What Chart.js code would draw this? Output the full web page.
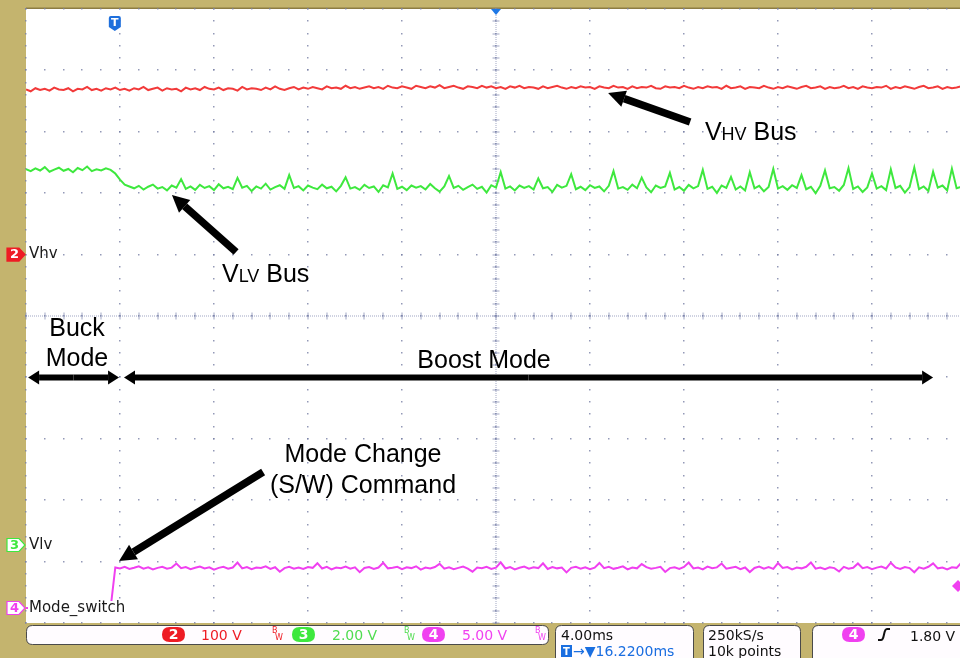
<!DOCTYPE html>
<html>
<head>
<meta charset="utf-8">
<script src="https://cdn.jsdelivr.net/npm/chart.js@4.4.0/dist/chart.umd.min.js"></script>
<style>
html,body{margin:0;padding:0;overflow:hidden;background:#c4b46e;}
canvas{display:block;}
</style>
</head>
<body>
<canvas id="scope" width="966" height="658"></canvas>
<script>
// time base: 4 ms/div, horizontal position 16.22 ms, 10 divisions
const msPerDiv = 4.0;
const horizPosMs = 16.22;
const timeStart = horizPosMs - 5 * msPerDiv;
const sampleStepMs = 0.2;

// channel settings (volts/div, ground marker position in divisions from bottom)
const hvVoltsPerDiv = 100, hvGroundDiv = 6.0;
const lvVoltsPerDiv = 2.0, lvGroundDiv = 1.27;
const modeVoltsPerDiv = 5.0, modeGroundDiv = 0.244;
const triggerLevel = 1.80;

// Ch2 - VHV bus (V)
const hvBus = [
  269,266,271,268,270,267,272,269,268,271,266,270,269,273,268,270,267,271,269,272,
  268,270,267,271,269,273,268,270,272,267,271,269,270,266,272,269,271,268,273,270,
  269,272,268,271,270,267,273,269,271,270,268,272,269,274,270,268,271,273,269,272,
  270,273,271,269,274,271,272,270,275,271,273,270,272,274,271,273,270,275,272,271,
  274,272,270,275,273,271,274,272,276,271,273,275,272,270,274,273,271,275,272,274,
  271,273,270,274,272,275,271,273,272,270,274,271,273,275,272,270,273,271,274,272,
  273,270,274,272,271,275,272,273,270,274,271,273,272,275,271,270,274,272,273,271,
  275,272,270,273,271,274,272,273,270,275,271,272,274,270,273,272,271,275,272,270,
  273,271,274,272,270,273,275,271,272,274,270,273,271,272,275,271,273,270,274,272,
  271,273,272,275,270,273,271,274,272,270,273,275,271,272,274,270,273,271,272,274,
  272
];

// Ch3 - VLV bus (V)
const lvBus = [
  12.24,12.18,12.27,12.20,12.31,12.16,12.23,12.29,12.19,12.25,12.14,12.28,12.21,12.33,12.18,12.24,12.20,12.27,12.22,
  12.10,11.90,11.74,11.68,
  11.62,11.70,11.58,11.67,11.74,11.61,11.66,11.55,11.71,11.64,11.92,11.60,11.68,11.57,11.73,11.63,11.69,11.56,11.75,11.62,
  11.67,11.59,11.96,11.64,11.70,11.53,11.68,11.61,11.77,11.58,11.66,11.72,11.60,12.05,11.63,11.69,11.55,11.71,11.64,11.59,
  11.74,11.62,11.67,11.52,11.70,11.98,11.61,11.66,11.57,11.73,11.63,11.68,11.50,11.72,11.65,12.10,11.60,11.67,11.56,11.71,
  11.64,11.69,11.58,11.76,11.62,11.51,11.68,12.02,11.63,11.70,11.57,11.66,11.74,11.60,11.67,11.48,11.72,11.64,12.15,11.61,
  11.68,11.55,11.71,11.63,11.69,11.58,11.94,11.62,11.66,11.50,11.73,11.64,11.70,12.08,11.59,11.67,11.56,11.72,11.63,11.68,
  11.52,11.70,12.18,11.61,11.66,11.57,11.74,11.62,11.97,11.65,11.49,11.71,11.63,11.68,12.12,11.58,11.66,11.54,11.73,11.62,
  11.69,12.22,11.60,11.67,11.47,11.71,11.63,11.99,11.58,11.68,11.55,12.14,11.62,11.70,11.52,11.66,12.25,11.61,11.69,11.57,
  11.72,11.63,12.05,11.59,11.67,11.46,11.70,12.20,11.62,11.66,11.54,11.73,12.28,11.60,11.68,11.50,11.65,12.10,11.61,11.69,
  11.56,12.24,11.63,11.70,11.48,11.66,12.30,11.59,11.68,11.53,12.16,11.64,11.71,11.55,12.26,11.62,11.67,11.58
];

// Ch4 - Mode_switch (V)
const modeSwitch = [
  0,0,0,0,0,0,0,0,0,0,0,0,0,0,0,0,0,0,0,
  3.30,3.22,3.35,3.18,3.28,3.40,3.21,3.31,3.15,3.27,3.36,3.20,3.29,3.62,3.24,3.33,3.17,3.28,3.38,3.22,
  3.31,3.12,3.27,3.35,3.20,3.30,3.70,3.23,3.34,3.16,3.29,3.26,3.39,3.19,3.32,2.95,3.25,3.36,3.21,3.30,
  3.18,3.33,3.27,3.65,3.22,3.35,3.14,3.29,3.24,3.37,3.20,3.31,2.92,3.26,3.34,3.19,3.30,3.68,3.23,3.28,
  3.36,3.17,3.32,3.25,3.40,3.13,3.29,3.22,3.34,3.60,3.20,3.31,3.16,3.27,3.38,3.21,2.96,3.30,3.24,3.35,
  3.19,3.29,3.72,3.22,3.33,3.15,3.28,3.37,3.20,3.31,3.25,3.64,3.18,3.34,3.23,3.30,2.90,3.27,3.36,3.21,
  3.32,3.16,3.29,3.67,3.24,3.35,3.19,3.28,3.39,3.14,3.30,3.23,3.58,3.33,3.20,3.27,3.36,2.94,3.25,3.31,
  3.18,3.34,3.70,3.22,3.29,3.15,3.37,3.24,3.31,3.62,3.20,3.28,3.35,3.17,3.30,2.93,3.26,3.38,3.21,3.33,
  3.19,3.66,3.27,3.34,3.14,3.29,3.23,3.36,3.71,3.21,3.30,3.17,3.32,3.25,2.97,3.35,3.20,3.28,3.63,3.24,
  3.33,3.16,3.29,3.38,3.22,3.69,3.30,3.18,3.34,3.25,2.91,3.31,3.20,3.36,3.64,3.23,3.29,3.15,3.32,3.27,
  3.68,3.22
];

const sampleTimes = hvBus.map((v, i) => timeStart + i * sampleStepMs);
const toPoints = (arr) => arr.map((v, i) => ({x: sampleTimes[i], y: v}));

const TXT = '"Liberation Sans", Arial, sans-serif';
const SCOPE = '"DejaVu Sans", sans-serif';

function arrow(ctx, x1, y1, x2, y2, w, hl, hw) {
  const a = Math.atan2(y2 - y1, x2 - x1);
  const bx = x2 - hl * Math.cos(a), by = y2 - hl * Math.sin(a);
  ctx.lineWidth = w;
  ctx.beginPath(); ctx.moveTo(x1, y1); ctx.lineTo(bx, by); ctx.stroke();
  ctx.beginPath(); ctx.moveTo(x2, y2);
  ctx.lineTo(bx + hw / 2 * Math.sin(a), by - hw / 2 * Math.cos(a));
  ctx.lineTo(bx - hw / 2 * Math.sin(a), by + hw / 2 * Math.cos(a));
  ctx.closePath(); ctx.fill();
}

function badge(ctx, y, text, color, filled) {
  ctx.beginPath();
  ctx.moveTo(7, y - 6.5); ctx.lineTo(19, y - 6.5); ctx.lineTo(25, y);
  ctx.lineTo(19, y + 6.5); ctx.lineTo(7, y + 6.5); ctx.closePath();
  ctx.fillStyle = filled ? color : '#ffffff'; ctx.fill();
  ctx.lineWidth = 1.2; ctx.strokeStyle = color; ctx.stroke();
  ctx.fillStyle = filled ? '#ffffff' : color;
  ctx.font = 'bold 13px ' + SCOPE;
  ctx.textAlign = 'center'; ctx.textBaseline = 'middle';
  ctx.fillText(text, 14.5, y + 0.5);
}

function rrect(ctx, x, y, w, h, r) {
  ctx.beginPath();
  ctx.moveTo(x + r, y); ctx.lineTo(x + w - r, y); ctx.quadraticCurveTo(x + w, y, x + w, y + r);
  ctx.lineTo(x + w, y + h - r); ctx.quadraticCurveTo(x + w, y + h, x + w - r, y + h);
  ctx.lineTo(x + r, y + h); ctx.quadraticCurveTo(x, y + h, x, y + h - r);
  ctx.lineTo(x, y + r); ctx.quadraticCurveTo(x, y, x + r, y); ctx.closePath();
}

function pill(ctx, x, y, text, color) {
  rrect(ctx, x, y, 23, 15, 7.5);
  ctx.fillStyle = color; ctx.fill();
  ctx.fillStyle = '#ffffff'; ctx.font = 'bold 14px ' + SCOPE;
  ctx.textAlign = 'center'; ctx.textBaseline = 'middle';
  ctx.fillText(text, x + 11.5, y + 8);
}

function bw(ctx, x, color) {
  ctx.fillStyle = color; ctx.font = '8px ' + SCOPE;
  ctx.textAlign = 'left'; ctx.textBaseline = 'alphabetic';
  ctx.fillText('B', x, 633); ctx.fillText('W', x + 3, 640);
}

function smallCaps(ctx, parts, x, y) {
  let cx = x;
  parts.forEach(([t, size]) => {
    ctx.font = size + 'px ' + TXT;
    ctx.fillText(t, cx, y);
    cx += ctx.measureText(t).width;
  });
}

const scopeDecor = {
  id: 'scopeDecor',
  beforeDraw(chart) {
    const {ctx, chartArea: a} = chart;
    ctx.save();
    ctx.fillStyle = '#c4b46e';
    ctx.fillRect(0, 0, chart.width, chart.height);
    ctx.fillStyle = '#ffffff';
    ctx.fillRect(a.left, a.top, a.right - a.left, a.bottom - a.top);
    ctx.fillStyle = '#8c7c42';
    ctx.fillRect(a.left, a.top - 1.5, a.right - a.left, 1.5);
    ctx.restore();
  },
  beforeDatasetsDraw(chart) {
    const {ctx, chartArea: a} = chart;
    const xs = chart.scales.x, ys = chart.scales.yd;
    ctx.save();
    ctx.fillStyle = 'rgba(120,128,165,0.8)';
    for (let k = 0; k <= 10; k++) {
      const px = Math.round(xs.getPixelForValue(timeStart + k * msPerDiv));
      const py = Math.round(ys.getPixelForValue(k));
      for (let m = 0; m <= 50; m++) {
        const qy = Math.round(ys.getPixelForValue(m / 5));
        const qx = Math.round(xs.getPixelForValue(timeStart + m * msPerDiv / 5));
        ctx.fillRect(px - 1, qy - 1, 1.5, 1.5);
        ctx.fillRect(qx - 1, py - 1, 1.5, 1.5);
      }
    }
    // centre cross hair
    const cx = Math.round(xs.getPixelForValue(horizPosMs));
    const cy = Math.round(ys.getPixelForValue(5));
    ctx.fillStyle = 'rgba(130,138,175,0.75)';
    for (let y = a.top; y < a.bottom; y += 2) ctx.fillRect(cx - 0.5, y, 1, 1);
    for (let x = a.left; x < a.right; x += 2) ctx.fillRect(x, cy - 0.5, 1, 1);
    for (let m = 0; m <= 50; m++) {
      const qy = Math.round(ys.getPixelForValue(m / 5));
      const qx = Math.round(xs.getPixelForValue(timeStart + m * msPerDiv / 5));
      ctx.fillRect(cx - 3.5, qy - 0.5, 7, 1);
      ctx.fillRect(qx - 0.5, cy - 3.5, 1, 7);
    }
    ctx.restore();
  },
  afterDatasetsDraw(chart) {
    const {ctx, chartArea: a} = chart;
    const xs = chart.scales.x, ys = chart.scales.yd;
    const P = (t, d) => [xs.getPixelForValue(t), ys.getPixelForValue(d)];
    ctx.save();

    // channel ground markers & labels
    const yHv = chart.scales.y2.getPixelForValue(0);
    const yLv = chart.scales.y3.getPixelForValue(0);
    const yMode = chart.scales.y4.getPixelForValue(0);
    ctx.fillStyle = '#ffffff';
    ctx.fillRect(a.left + 2, yMode - 7, 104, 15);
    badge(ctx, yHv, '2', '#ee1c24', true);
    badge(ctx, yLv, '3', '#3ee83e', false);
    badge(ctx, yMode, '4', '#f040f0', false);
    ctx.fillStyle = '#1a1a1a'; ctx.font = '15px ' + SCOPE;
    ctx.textAlign = 'left'; ctx.textBaseline = 'middle';
    ctx.fillText('Vhv', a.left + 3, yHv);
    ctx.fillText('Vlv', a.left + 3, yLv);
    ctx.fillText('Mode_switch', a.left + 3, yMode);

    // trigger "T" marker
    const tx = xs.getPixelForValue(0);
    ctx.fillStyle = '#1e6fdc';
    ctx.beginPath();
    ctx.moveTo(tx - 6, 18); ctx.quadraticCurveTo(tx - 6, 16, tx - 4, 16);
    ctx.lineTo(tx + 4, 16); ctx.quadraticCurveTo(tx + 6, 16, tx + 6, 18);
    ctx.lineTo(tx + 6, 27); ctx.lineTo(tx, 31); ctx.lineTo(tx - 6, 27); ctx.closePath(); ctx.fill();
    ctx.fillStyle = '#ffffff'; ctx.font = 'bold 11px ' + SCOPE; ctx.textAlign = 'center';
    ctx.fillText('T', tx, 23);
    // horizontal position marker
    const hx = xs.getPixelForValue(horizPosMs);
    ctx.fillStyle = '#1e78e6';
    ctx.beginPath(); ctx.moveTo(hx - 5, a.top); ctx.lineTo(hx + 5, a.top); ctx.lineTo(hx, a.top + 6); ctx.closePath(); ctx.fill();
    // trigger level marker (right edge)
    const ly = chart.scales.y4.getPixelForValue(triggerLevel);
    ctx.fillStyle = '#f040f0';
    ctx.beginPath(); ctx.moveTo(952, ly); ctx.lineTo(958, ly - 6); ctx.lineTo(964, ly); ctx.lineTo(958, ly + 6); ctx.closePath(); ctx.fill();

    // annotations
    ctx.fillStyle = '#000000'; ctx.strokeStyle = '#000000';
    ctx.textAlign = 'left'; ctx.textBaseline = 'alphabetic';
    let p = P(25.11, 7.866);
    smallCaps(ctx, [['V', 25], ['HV', 18], [' Bus', 25]], p[0], p[1]);
    p = P(4.56, 5.554);
    smallCaps(ctx, [['V', 25], ['LV', 18], [' Bus', 25]], p[0], p[1]);
    let q;
    p = P(24.48, 8.16); q = P(20.99, 8.632); arrow(ctx, p[0], p[1], q[0], q[1], 7.5, 17, 17);
    p = P(5.16, 6.042); q = P(2.43, 6.971); arrow(ctx, p[0], p[1], q[0], q[1], 7.5, 17, 17);
    p = P(6.31, 2.459); q = P(0.18, 1.01); arrow(ctx, p[0], p[1], q[0], q[1], 7.5, 17, 17);

    ctx.font = '25px ' + TXT; ctx.textAlign = 'center';
    p = P(-1.61, 4.674); ctx.fillText('Buck', p[0], p[1]);
    p = P(-1.61, 4.186); ctx.fillText('Mode', p[0], p[1]);
    p = P(15.71, 4.153); ctx.fillText('Boost Mode', p[0], p[1]);
    p = P(10.56, 2.622); ctx.fillText('Mode Change', p[0], p[1]);
    p = P(10.56, 2.117); ctx.fillText('(S/W) Command', p[0], p[1]);

    const dbl = (t1, t2, d) => {
      const s = P(t1, d), e = P(t2, d), m = (s[0] + e[0]) / 2;
      arrow(ctx, m, s[1], s[0], s[1], 6, 11, 14);
      arrow(ctx, m, e[1], e[0], e[1], 6, 11, 14);
    };
    dbl(-3.69, 0.18, 4.0);
    dbl(0.39, 34.82, 4.0);

    // status bar
    ctx.lineWidth = 1; ctx.strokeStyle = '#4a4a4a';
    [[26, 625, 522, 19], [555, 625, 138, 40], [703, 625, 97, 40], [812, 625, 160, 40]].forEach(b => {
      rrect(ctx, b[0] + 0.5, b[1] + 0.5, b[2], b[3], 6);
      ctx.fillStyle = '#fffcff'; ctx.fill(); ctx.stroke();
    });
    pill(ctx, 162, 627, '2', '#ee1c24');
    pill(ctx, 292, 627, '3', '#3ee83e');
    pill(ctx, 422, 627, '4', '#f040f0');
    pill(ctx, 842, 627, '4', '#f040f0');
    ctx.font = '14px ' + SCOPE; ctx.textAlign = 'left'; ctx.textBaseline = 'alphabetic';
    ctx.fillStyle = '#ee1c24'; ctx.fillText('100 V', 201, 640);
    ctx.fillStyle = '#50dc50'; ctx.fillText('2.00 V', 332, 640);
    ctx.fillStyle = '#f040f0'; ctx.fillText('5.00 V', 462, 640);
    bw(ctx, 272, '#ee1c24'); bw(ctx, 404, '#50dc50'); bw(ctx, 535, '#f040f0');
    ctx.font = '14px ' + SCOPE;
    ctx.fillStyle = '#111111';
    ctx.fillText('4.00ms', 561, 640);
    ctx.fillText('250kS/s', 708, 640);
    ctx.fillText('10k points', 708, 656);
    ctx.fillText('1.80 V', 910, 641);
    ctx.fillStyle = '#1a6ee0';
    ctx.fillRect(561, 645, 11, 12);
    ctx.fillText('\u2192\u25BC16.2200ms', 573, 656);
    ctx.fillStyle = '#ffffff'; ctx.font = 'bold 10px ' + SCOPE; ctx.textAlign = 'center';
    ctx.fillText('T', 566.5, 655);
    // rising edge glyph
    ctx.strokeStyle = '#111111'; ctx.lineWidth = 2;
    ctx.beginPath(); ctx.moveTo(878, 640); ctx.lineTo(881, 640);
    ctx.bezierCurveTo(885, 640, 883, 629, 887, 629); ctx.lineTo(890, 629); ctx.stroke();
    ctx.restore();
  }
};

const ctx = document.getElementById('scope').getContext('2d');

const scope = new Chart(ctx, {
  type: 'line',
  data: {
    datasets: [
      {label: 'Vhv', data: toPoints(hvBus), yAxisID: 'y2', borderColor: '#f23a3a', borderWidth: 2},
      {label: 'Vlv', data: toPoints(lvBus), yAxisID: 'y3', borderColor: '#3ee83e', borderWidth: 2},
      {label: 'Mode_switch', data: toPoints(modeSwitch), yAxisID: 'y4', borderColor: '#f040f0', borderWidth: 2}
    ]
  },
  options: {
    responsive: false,
    animation: false,
    layout: {padding: {left: 26, top: 9, right: 0, bottom: 35}},
    elements: {point: {radius: 0}, line: {tension: 0}},
    plugins: {legend: {display: false}, tooltip: {enabled: false}},
    scales: {
      x: {type: 'linear', display: false, min: timeStart, max: timeStart + 10 * msPerDiv},
      yd: {display: false, min: 0, max: 10},
      y2: {display: false, min: -hvGroundDiv * hvVoltsPerDiv, max: (10 - hvGroundDiv) * hvVoltsPerDiv},
      y3: {display: false, min: -lvGroundDiv * lvVoltsPerDiv, max: (10 - lvGroundDiv) * lvVoltsPerDiv},
      y4: {display: false, min: -modeGroundDiv * modeVoltsPerDiv, max: (10 - modeGroundDiv) * modeVoltsPerDiv}
    }
  },
  plugins: [scopeDecor]
});
</script>
</body>
</html>
